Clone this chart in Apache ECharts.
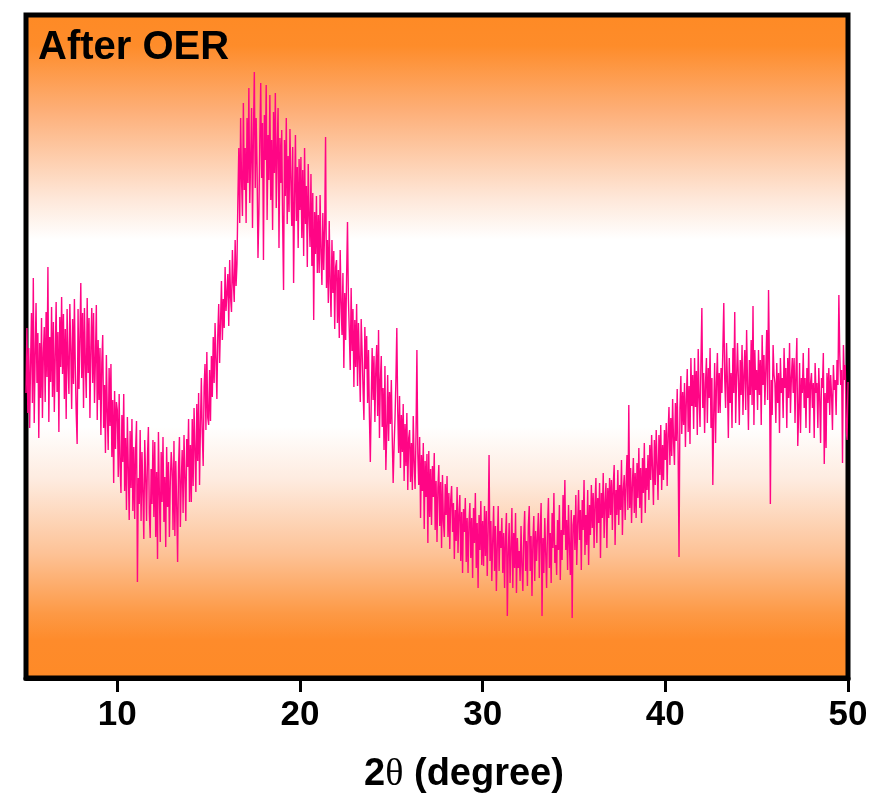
<!DOCTYPE html>
<html>
<head>
<meta charset="utf-8">
<title>XRD pattern after OER</title>
<script src="https://cdn.jsdelivr.net/npm/echarts@6/dist/echarts.min.js"></script>
<style>
  html, body { margin: 0; padding: 0; background: #ffffff; }
  #chart { width: 879px; height: 803px; }
</style>
</head>
<body>
<div id="chart"></div>
<script>
// Scan settings: 2θ from 5° to 50° in 0.05° steps
const scanStart = 5;
const scanStep = 0.05;

// Measured intensity (a.u.), one row per degree of 2θ (20 points each)
const intensity = [
  285,350,265,330,250,315,365,275,400,255,320,375,295,345,240,335,280,360,260,325,
  351,276,366,301,411,256,341,296,371,281,356,266,321,376,286,346,246,361,311,381,
  304,364,279,349,259,369,314,284,374,329,269,359,294,379,309,264,234,369,289,339,
  395,300,365,270,370,315,280,380,305,360,260,330,370,295,365,275,318,373,258,338,
  278,330,243,315,343,250,293,225,323,265,228,310,252,314,221,278,195,287,229,276,
  268,201,284,212,185,263,216,284,187,240,168,261,210,158,247,190,259,167,231,159,
  228,257,96,200,174,248,157,226,185,139,238,202,157,221,251,165,140,209,174,238,
  161,236,141,206,119,246,186,136,226,176,241,156,201,131,231,171,216,141,196,226,
  208,148,237,142,217,171,116,211,241,151,196,228,165,243,200,157,239,211,259,176,
  233,176,259,192,270,228,186,274,217,285,193,252,300,244,212,291,314,248,326,260,
  253,308,257,322,281,341,295,355,319,279,343,374,315,356,397,338,379,350,411,367,
  368,404,352,418,380,366,428,396,376,438,392,414,480,530,455,560,498,462,575,488,
  530,455,560,495,590,475,520,570,450,545,606,490,560,510,420,465,540,595,500,555,
  418,563,518,593,458,543,498,583,478,538,448,566,505,585,470,530,570,430,540,495,
  548,456,388,538,482,560,454,522,466,549,498,452,531,395,479,543,457,511,430,519,
  468,521,440,508,422,530,454,492,411,514,463,431,504,412,485,358,466,424,482,405,
  463,405,483,425,393,465,408,450,541,390,438,375,457,394,361,438,385,427,349,411,
  418,355,408,340,428,375,343,405,310,385,338,400,456,379,346,308,390,327,369,291,
  358,311,374,292,355,318,276,359,327,290,258,351,309,342,275,328,261,216,277,330,
  278,322,256,309,333,262,348,240,298,322,251,290,228,312,208,245,303,237,286,254,
  298,241,195,231,259,297,350,267,225,282,210,263,226,274,197,254,212,265,188,240,
  248,196,235,188,262,215,189,242,328,224,193,241,160,223,187,235,149,217,181,224,
  135,227,161,209,153,212,181,225,148,197,136,190,213,152,196,130,203,157,141,194,
  163,202,141,185,129,178,192,146,175,119,168,137,191,125,164,183,117,166,105,169,
  146,180,116,160,105,155,175,120,160,100,170,135,185,110,155,90,163,128,177,113,
  157,112,172,122,167,102,147,223,117,157,97,137,172,107,152,87,132,172,107,147,
  130,160,105,145,90,140,165,62,125,155,95,130,170,90,145,110,165,85,140,110,
  127,97,152,112,87,142,167,107,137,92,152,172,107,142,82,137,162,97,147,117,
  115,165,100,145,175,62,140,105,160,125,90,150,180,110,145,95,165,130,185,115,
  133,103,158,128,173,98,148,118,183,143,198,128,158,108,173,133,103,168,60,153,
  163,128,183,113,153,188,138,168,108,178,148,198,123,163,133,188,113,173,143,193,
  150,185,130,175,200,135,180,155,195,120,185,160,205,140,175,195,130,190,160,200,
  163,198,148,193,213,133,188,163,208,153,193,168,218,143,188,203,158,193,223,168,
  273,170,210,155,195,220,165,205,160,215,180,230,170,210,155,220,185,235,165,210,
  188,223,178,233,198,243,208,173,238,193,248,213,178,243,203,253,188,233,198,248,
  218,255,192,244,271,213,260,222,279,236,213,275,237,289,226,121,270,302,244,286,
  253,295,231,278,309,246,292,234,320,272,303,249,320,271,307,243,329,280,251,317,
  370,270,305,245,295,320,255,310,280,330,250,300,193,265,315,235,295,325,265,305,
  265,310,285,330,375,300,270,335,295,240,320,275,305,250,330,285,366,255,300,335,
  298,253,318,283,333,263,303,328,268,348,293,248,318,283,338,273,372,253,328,288,
  308,268,328,283,318,253,343,293,323,273,308,348,278,388,313,174,298,263,333,303,
  295,255,315,275,305,245,320,285,300,260,330,290,310,250,320,280,335,265,300,320,
  285,320,255,305,340,232,265,315,245,300,285,325,270,300,250,310,280,330,245,295,
  305,270,295,240,315,285,295,250,310,280,235,300,290,325,214,285,230,305,275,310,
  263,303,283,248,313,288,298,263,318,293,383,323,293,308,215,333,298,313,248,238,
  296
];

// Axis ticks and range
const xTicks = [10, 20, 30, 40, 50];
const xRange = [5, 50];
const yRange = [0, 663];

const panelLabel = 'After OER';

const points = intensity.map((v, i) => [Number((scanStart + i * scanStep).toFixed(2)), v]);

const sansBold = "'Liberation Sans', Arial, sans-serif";

// Orange-white-orange backdrop of the plot panel
const panelFill = new echarts.graphic.LinearGradient(0, 0, 0, 1, [
  { offset: 0.00, color: '#FE8A25' },
  { offset: 0.05, color: '#FE8C2A' },
  { offset: 0.15, color: '#FDB07A' },
  { offset: 0.28, color: '#FEE8DA' },
  { offset: 0.34, color: '#FFFFFF' },
  { offset: 0.62, color: '#FFFFFF' },
  { offset: 0.70, color: '#FEEBDF' },
  { offset: 0.81, color: '#FDC296' },
  { offset: 0.90, color: '#FD9945' },
  { offset: 0.94, color: '#FE8B2B' },
  { offset: 1.00, color: '#FE8A27' }
]);

const chart = echarts.init(document.getElementById('chart'), null, { renderer: 'canvas' });

chart.setOption({
  animation: false,
  backgroundColor: '#ffffff',
  title: {
    text: panelLabel,
    left: 33,
    top: 23,
    textStyle: { fontFamily: sansBold, fontWeight: 'bold', fontSize: 40, color: '#000000' }
  },
  grid: {
    left: 26, right: 31, top: 15, bottom: 125,
    show: true,
    borderColor: '#000000',
    borderWidth: 5,
    backgroundColor: panelFill
  },
  xAxis: {
    type: 'value',
    min: xRange[0],
    max: xRange[1],
    axisLine: { show: true, onZero: false, lineStyle: { color: '#000000', width: 5 } },
    axisTick: { show: true, customValues: xTicks, length: 14, lineStyle: { color: '#000000', width: 3 } },
    axisLabel: {
      customValues: xTicks,
      margin: 20,
      fontFamily: sansBold, fontWeight: 'bold', fontSize: 35, color: '#000000'
    },
    splitLine: { show: false },
    name: '{n|2}{t|θ}{n| (degree)}',
    nameLocation: 'middle',
    nameGap: 78,
    nameTextStyle: {
      padding: [0, 0, 0, 54],
      rich: {
        n: { fontFamily: sansBold, fontWeight: 'bold', fontSize: 38, color: '#000000' },
        t: { fontFamily: "'Liberation Serif', 'Times New Roman', serif", fontWeight: 'normal', fontSize: 38, color: '#000000' }
      }
    }
  },
  yAxis: {
    type: 'value',
    min: yRange[0],
    max: yRange[1],
    show: false
  },
  series: [{
    type: 'line',
    data: points,
    showSymbol: false,
    symbol: 'none',
    sampling: null,
    silent: true,
    lineStyle: { color: '#FF0585', width: 1.4 }
  }]
});
</script>
</body>
</html>
